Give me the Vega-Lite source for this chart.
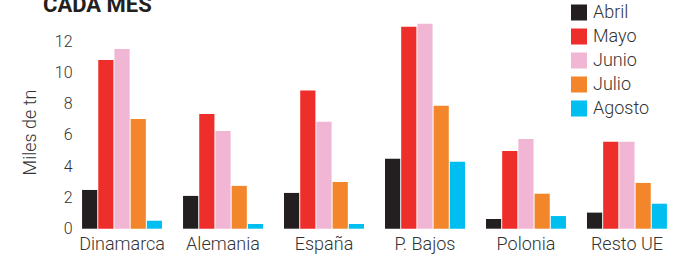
{
  "$schema": "https://vega.github.io/schema/vega-lite/v6.json",
  "width": 597,
  "height": 218.7,
  "autosize": {"type": "none"},
  "padding": {"left": 76, "top": 10, "right": 9, "bottom": 28.3},
  "background": "white",
  "config": {"view": {"stroke": null}, "font": "Roboto, sans-serif"},
  "title": {"text": "CADA MES", "anchor": "start", "frame": "group", "fontSize": 22, "fontWeight": "bold", "color": "#231f20", "dx": -33, "dy": 14, "offset": 0},
  "data": {"values": [
    {"pais": "Dinamarca", "mes": "Abril", "valor": 2.48},
    {"pais": "Dinamarca", "mes": "Mayo", "valor": 10.8},
    {"pais": "Dinamarca", "mes": "Junio", "valor": 11.5},
    {"pais": "Dinamarca", "mes": "Julio", "valor": 7.03},
    {"pais": "Dinamarca", "mes": "Agosto", "valor": 0.51},
    {"pais": "Alemania", "mes": "Abril", "valor": 2.1},
    {"pais": "Alemania", "mes": "Mayo", "valor": 7.35},
    {"pais": "Alemania", "mes": "Junio", "valor": 6.26},
    {"pais": "Alemania", "mes": "Julio", "valor": 2.74},
    {"pais": "Alemania", "mes": "Agosto", "valor": 0.3},
    {"pais": "España", "mes": "Abril", "valor": 2.29},
    {"pais": "España", "mes": "Mayo", "valor": 8.85},
    {"pais": "España", "mes": "Junio", "valor": 6.84},
    {"pais": "España", "mes": "Julio", "valor": 2.99},
    {"pais": "España", "mes": "Agosto", "valor": 0.3},
    {"pais": "P. Bajos", "mes": "Abril", "valor": 4.47},
    {"pais": "P. Bajos", "mes": "Mayo", "valor": 12.93},
    {"pais": "P. Bajos", "mes": "Junio", "valor": 13.12},
    {"pais": "P. Bajos", "mes": "Julio", "valor": 7.87},
    {"pais": "P. Bajos", "mes": "Agosto", "valor": 4.28},
    {"pais": "Polonia", "mes": "Abril", "valor": 0.62},
    {"pais": "Polonia", "mes": "Mayo", "valor": 4.98},
    {"pais": "Polonia", "mes": "Junio", "valor": 5.75},
    {"pais": "Polonia", "mes": "Julio", "valor": 2.24},
    {"pais": "Polonia", "mes": "Agosto", "valor": 0.81},
    {"pais": "Resto UE", "mes": "Abril", "valor": 1.03},
    {"pais": "Resto UE", "mes": "Mayo", "valor": 5.56},
    {"pais": "Resto UE", "mes": "Junio", "valor": 5.56},
    {"pais": "Resto UE", "mes": "Julio", "valor": 2.93},
    {"pais": "Resto UE", "mes": "Agosto", "valor": 1.6}
  ]},
  "mark": {"type": "bar"},
  "encoding": {
    "x": {
      "field": "pais", "type": "nominal",
      "sort": ["Dinamarca", "Alemania", "España", "P. Bajos", "Polonia", "Resto UE"],
      "scale": {"paddingInner": 0.208, "paddingOuter": 0.06},
      "axis": {"title": null, "labelAngle": 0, "domain": false, "ticks": false, "labelFontSize": 18, "labelFontWeight": 300, "labelPadding": 7, "labelColor": "#333333"}
    },
    "xOffset": {
      "field": "mes", "type": "nominal",
      "sort": ["Abril", "Mayo", "Junio", "Julio", "Agosto"],
      "scale": {"paddingInner": 0.0625}
    },
    "y": {
      "field": "valor", "type": "quantitative",
      "scale": {"domain": [0, 14], "nice": false},
      "axis": {"values": [0, 2, 4, 6, 8, 10, 12], "grid": false, "domain": false, "ticks": false, "labelFontSize": 16, "labelFontWeight": 300, "labelPadding": 4, "labelColor": "#333333",
        "title": "Miles de tn", "titleFontSize": 18, "titleFontWeight": 300, "titleColor": "#333333", "titleX": -46, "titleY": 122, "titleAlign": "center", "titleBaseline": "middle"}
    },
    "color": {
      "field": "mes", "type": "nominal",
      "sort": ["Abril", "Mayo", "Junio", "Julio", "Agosto"],
      "scale": {"domain": ["Abril", "Mayo", "Junio", "Julio", "Agosto"], "range": ["#231f20", "#ee2e2b", "#f1b6d4", "#f3862b", "#00bef0"]},
      "legend": {"title": null, "orient": "none", "legendX": 494, "legendY": -7.5, "symbolType": "square", "symbolSize": 256, "symbolStrokeWidth": 0, "symbolOpacity": 1, "labelFontSize": 18, "labelFontWeight": 300, "labelColor": "#333333", "labelOffset": 5, "rowPadding": 4, "clipHeight": 20}
    }
  }
}
